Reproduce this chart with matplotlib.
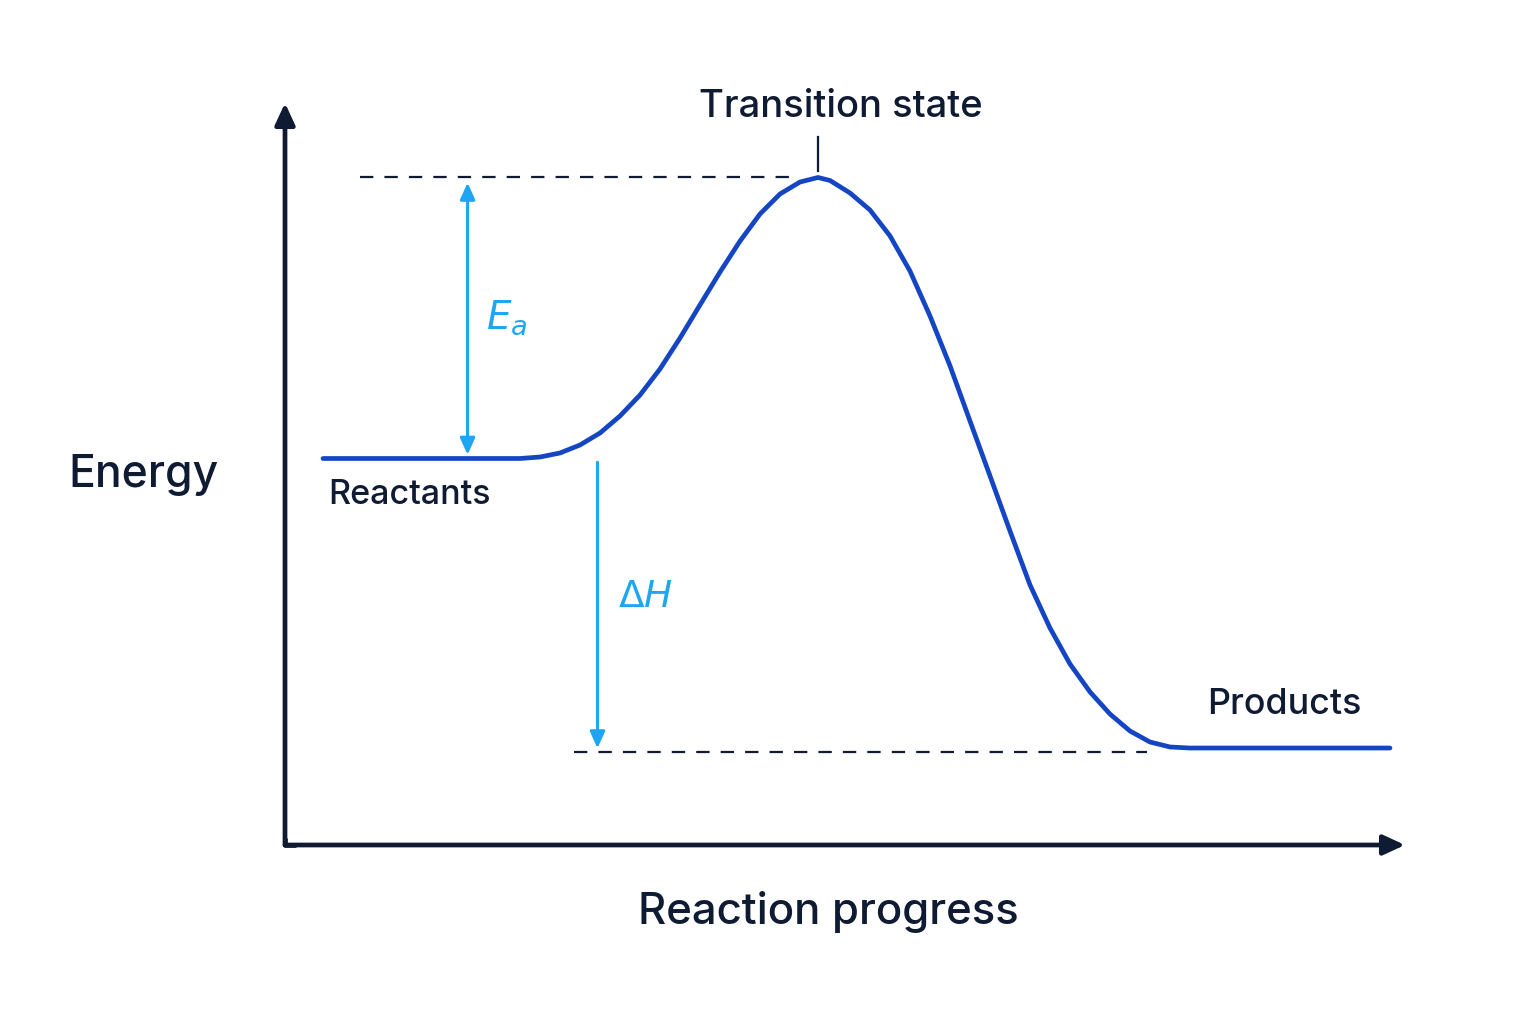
import matplotlib
matplotlib.use("Agg")
from matplotlib import pyplot as plt

plt.rcParams['font.family'] = ['Inter', 'DejaVu Sans']
plt.rcParams['mathtext.fontset'] = 'dejavusans'

# energy profile (progress 0-100, energy 0-100)
progress = [3.39, 20.98, 22.77, 24.55, 26.34, 28.13, 29.91, 31.70, 33.48, 35.27,
            37.05, 38.84, 40.63, 42.41, 44.20, 45.98, 47.59,
            48.66, 50.45, 52.23, 54.02, 55.80, 57.59, 59.38, 61.16, 62.95, 64.73,
            66.52, 68.30, 70.09, 71.88, 73.66, 75.45, 77.23, 79.02, 80.80, 98.66]
energy = [52.09, 52.09, 52.29, 52.83, 53.91, 55.53, 57.82, 60.65, 64.15, 68.33,
          72.78, 77.22, 81.40, 85.04, 87.74, 89.35, 89.96,
          89.56, 87.87, 85.58, 82.08, 77.36, 71.29, 64.56, 57.14, 49.73, 42.32,
          35.04, 29.25, 24.39, 20.62, 17.65, 15.36, 13.88, 13.21, 13.07, 13.07]

reactant_E = 52.09
ts_E = 89.96
product_E = 12.53
ts_x = 47.59
ea_x = 16.3
dh_x = 27.9

navy = '#0f1a33'
curve_blue = '#1446c4'
light_blue = '#1ea6f4'

fig = plt.figure(figsize=(15.36, 10.24), dpi=100)
fig.patch.set_facecolor('white')
ax = fig.add_axes([285/1536, (1024-845)/1024, 1120/1536, 742/1024])
ax.set_xlim(0, 100)
ax.set_ylim(0, 100)
ax.axis('off')

# axes with arrow heads
ax.annotate('', xy=(0, 1.0), xytext=(0, 0), xycoords='axes fraction',
            arrowprops=dict(arrowstyle='-|>,head_length=1.3,head_width=0.6', color=navy, lw=3.4,
                            shrinkA=0, shrinkB=0), annotation_clip=False)
ax.annotate('', xy=(1.0, 0), xytext=(0, 0), xycoords='axes fraction',
            arrowprops=dict(arrowstyle='-|>,head_length=1.3,head_width=0.6', color=navy, lw=3.4,
                            shrinkA=0, shrinkB=0), annotation_clip=False)
ax.plot([0, 0, 0.01], [0.01, 0, 0], color=navy, lw=3.4, solid_capstyle='butt',
        solid_joinstyle='round', transform=ax.transAxes, clip_on=False)

# dashed reference levels
ax.plot([6.7, 46.0], [ts_E, ts_E], color=navy, lw=1.6, dashes=(6, 5))
ax.plot([25.8, 77.0], [product_E, product_E], color=navy, lw=1.6, dashes=(6, 5))

# curve
ax.plot(progress, energy, color=curve_blue, lw=3.4, solid_capstyle='round', solid_joinstyle='round')

# transition state tick
ax.plot([ts_x, ts_x], [90.8, 95.4], color=navy, lw=1.6)

# Ea double arrow
ax.annotate('', xy=(ea_x, ts_E - 0.7), xytext=(ea_x, reactant_E + 0.5),
            arrowprops=dict(arrowstyle='<|-|>,head_length=1.0,head_width=0.45', color=light_blue,
                            lw=2.2, shrinkA=0, shrinkB=0))
# dH arrow
ax.annotate('', xy=(dh_x, product_E + 0.5), xytext=(dh_x, reactant_E - 0.5),
            arrowprops=dict(arrowstyle='-|>,head_length=1.0,head_width=0.45', color=light_blue,
                            lw=2.2, shrinkA=0, shrinkB=0))

def px(x, y):
    return x / 1536, 1 - y / 1024

fig.text(*px(841, 107), 'Transition state', fontsize=27.5, color=navy, ha='center', va='center', fontweight='medium')
fig.text(*px(144, 475), 'Energy', fontsize=32, color=navy, ha='center', va='center', fontweight='medium')
fig.text(*px(828, 912), 'Reaction progress', fontsize=31.5, color=navy, ha='center', va='center', fontweight='medium')
fig.text(*px(328, 495), 'Reactants', fontsize=24.5, color=navy, ha='left', va='center', fontweight='medium')
fig.text(*px(1207, 704), 'Products', fontsize=25.8, color=navy, ha='left', va='center', fontweight='medium')
fig.text(*px(486, 318), '$E_a$', fontsize=28, color=light_blue, ha='left', va='center')
fig.text(*px(618, 597), r'$\Delta H$', fontsize=27, color=light_blue, ha='left', va='center')

fig.savefig('out.png', dpi=100, facecolor='white')
